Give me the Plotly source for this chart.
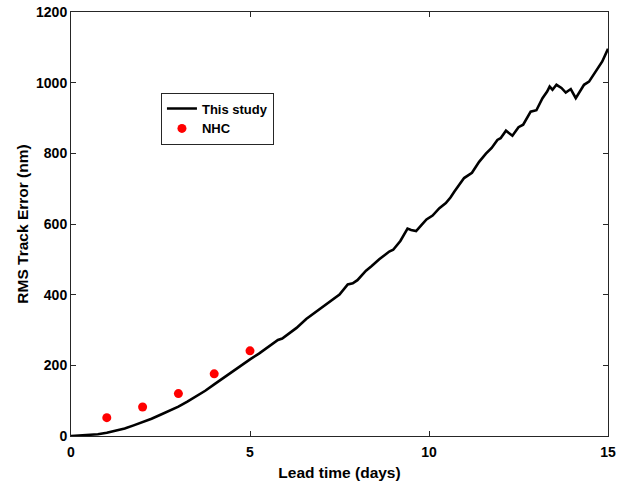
import plotly.graph_objects as go

lead_time = [0, 0.25, 0.5, 0.75, 1, 1.25, 1.5, 1.75, 2, 2.25, 2.5, 2.75, 3, 3.25, 3.5, 3.75,
             4, 4.25, 4.5, 4.75, 5, 5.25, 5.5, 5.78, 5.9, 6.1, 6.3, 6.57, 6.75, 6.94, 7.1, 7.3,
             7.5, 7.73, 7.87, 8.0, 8.24, 8.4, 8.61, 8.89, 9.0, 9.2, 9.4, 9.5, 9.64, 9.8, 9.93,
             10.1, 10.29, 10.47, 10.6, 10.71, 10.85, 10.98, 11.2, 11.4, 11.59, 11.75, 11.91,
             12.0, 12.15, 12.33, 12.5, 12.63, 12.84, 13.0, 13.17, 13.3, 13.37, 13.45, 13.56,
             13.7, 13.82, 13.96, 14.1, 14.2, 14.33, 14.47, 14.64, 14.84, 15.0]
rms_error = [0, 1, 2, 5, 9, 14, 21, 30, 39, 49, 60, 71, 83, 97, 112, 128,
             146, 164, 182, 199, 217, 233, 251, 272, 276, 290, 306, 331, 344, 357, 369, 383,
             400, 429, 432, 441, 468, 481, 500, 522, 527, 552, 587, 583, 580, 598, 613,
             624, 645, 659, 675, 692, 712, 730, 745, 776, 799, 815, 838,
             843, 864, 850, 874, 881, 918, 922, 956, 975, 989, 980, 994,
             985, 972, 982, 956, 972, 994, 1003, 1031, 1060, 1096]

nhc_days = [1, 2, 3, 4, 5]
nhc_error = [52, 82, 120, 176, 241]

x_ticks = [0, 5, 10, 15]
y_ticks = [0, 200, 400, 600, 800, 1000, 1200]

FONT = "Arial, Liberation Sans, sans-serif"
AX = "#262626"

fig = go.Figure()
fig.add_trace(go.Scatter(x=lead_time, y=rms_error, mode="lines", name="<b>This study</b>",
                         line=dict(color="black", width=2.6)))
fig.add_trace(go.Scatter(x=nhc_days, y=nhc_error, mode="markers", name="<b>NHC</b>",
                         marker=dict(color="#ff0000", size=9)))

axis_common = dict(showgrid=False, zeroline=False, showline=True, linecolor=AX, linewidth=1,
                   mirror="ticks", ticks="inside", ticklen=5, tickcolor=AX, automargin=False,
                   tickfont=dict(family=FONT, size=14, color="black"))

fig.update_xaxes(range=[0, 15], tickvals=x_ticks, ticktext=[f"<b>{v}</b>" for v in x_ticks],
                 ticklabelstandoff=3,
                 title=dict(text="<b>Lead time (days)</b>", font=dict(family=FONT, size=15.5, color="black"),
                            standoff=8),
                 **axis_common)
fig.update_yaxes(range=[0, 1200], tickvals=y_ticks, ticktext=[f"<b>{v}</b>" for v in y_ticks],
                 title=dict(text="<b>RMS Track Error (nm)</b>", font=dict(family=FONT, size=15.5, color="black"),
                            standoff=3),
                 **axis_common)

fig.update_layout(
    width=622, height=484,
    margin=dict(l=71, r=14, t=12, b=48, autoexpand=False),
    paper_bgcolor="white", plot_bgcolor="white",
    font=dict(family=FONT, color="black"),
    showlegend=True,
    legend=dict(x=0.1675, y=0.81, xanchor="left", yanchor="top",
                bgcolor="white", bordercolor=AX, borderwidth=1,
                font=dict(family=FONT, size=13, color="black"),
                tracegroupgap=0),
)

fig.write_html("out.html", config={"displayModeBar": False},
               post_script="document.body.style.margin='0';document.body.style.overflow='hidden';")
